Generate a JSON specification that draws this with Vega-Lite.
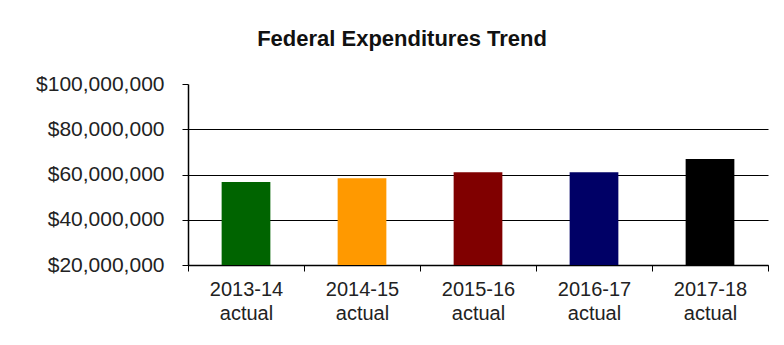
{
  "$schema": "https://vega.github.io/schema/vega-lite/v6.json",
  "autosize": {"type": "none"},
  "width": 580,
  "height": 181,
  "padding": {"left": 188, "top": 84, "right": 16, "bottom": 80},
  "background": "white",
  "config": {"view": {"stroke": null}, "font": "Liberation Sans"},
  "title": {
    "text": "Federal Expenditures Trend",
    "font": "Liberation Sans",
    "fontSize": 22,
    "fontWeight": "bold",
    "color": "#111111",
    "anchor": "middle",
    "frame": "group",
    "dx": -76,
    "offset": 22
  },
  "data": {
    "values": [
      {"year": "2013-14 actual", "amount": 56700000, "color": "#006400"},
      {"year": "2014-15 actual", "amount": 58300000, "color": "#FF9900"},
      {"year": "2015-16 actual", "amount": 61000000, "color": "#800000"},
      {"year": "2016-17 actual", "amount": 61000000, "color": "#000066"},
      {"year": "2017-18 actual", "amount": 66800000, "color": "#000000"}
    ]
  },
  "mark": {"type": "bar", "width": {"band": 0.42}},
  "encoding": {
    "x": {
      "field": "year",
      "type": "nominal",
      "sort": null,
      "scale": {"paddingInner": 0, "paddingOuter": 0},
      "axis": {
        "title": null,
        "labelAngle": 0,
        "labelExpr": "split(datum.label, ' ')",
        "labelFontSize": 20,
        "labelColor": "#222222",
        "labelLineHeight": 24,
        "labelPadding": 8,
        "tickBand": "extent",
        "tickColor": "black",
        "tickSize": 6,
        "domainColor": "black",
        "domainWidth": 1.5
      }
    },
    "y": {
      "field": "amount",
      "type": "quantitative",
      "scale": {"domain": [20000000, 100000000], "nice": false, "zero": false},
      "axis": {
        "title": null,
        "values": [20000000, 40000000, 60000000, 80000000, 100000000],
        "format": "$,.0f",
        "labelFontSize": 21,
        "labelColor": "#222222",
        "labelPadding": 18,
        "tickColor": "black",
        "tickSize": 6,
        "domainColor": "black",
        "domainWidth": 1.5,
        "grid": true,
        "gridColor": "black",
        "gridWidth": 1.2,
        "gridOpacity": {"condition": {"test": "datum.value == 100000000", "value": 0}, "value": 1}
      }
    },
    "y2": {"datum": 20000000},
    "color": {"field": "color", "type": "nominal", "scale": null}
  }
}
